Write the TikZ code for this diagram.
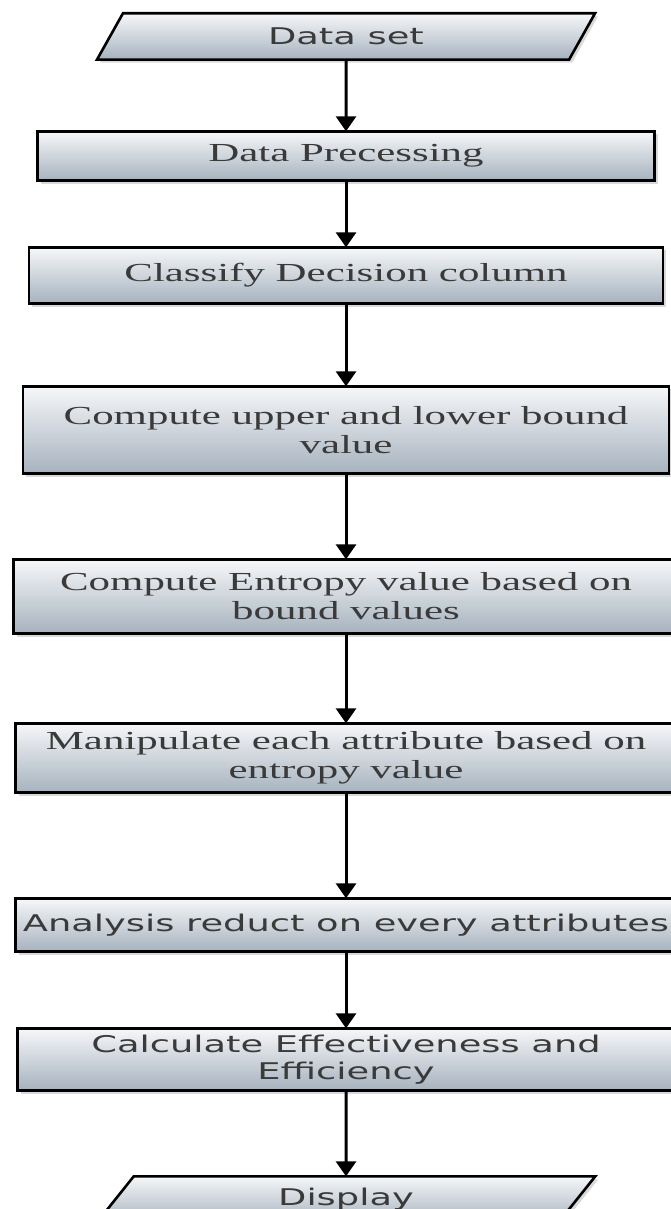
\documentclass[tikz,border=0pt]{standalone}
\usepackage{fontspec}
\usepackage{tikz}
\usetikzlibrary{arrows.meta,positioning,shapes.geometric,shadows}
\newfontfamily\serifwide[FakeStretch=1.65]{Liberation Serif}
\newfontfamily\sanswide[FakeStretch=1.6]{DejaVu Sans}
\definecolor{boxtop}{RGB}{246,247,249}
\definecolor{boxbottom}{RGB}{166,178,190}
\definecolor{txtgray}{RGB}{58,58,58}

\begin{document}
\begin{tikzpicture}
    \tikzstyle{stage}=[rectangle,draw,line width=2.6pt,top color=boxtop,%
    bottom color=boxbottom,text=txtgray,align=center,inner sep=0pt,%
    outer sep=0pt,drop shadow={shadow xshift=3pt,shadow yshift=-3pt,%
    opacity=0.3}] %
    \tikzstyle{serifbox}=[stage,font=\serifwide\fontsize{26}{29}\selectfont] %
    \tikzstyle{sansbox}=[stage,font=\sanswide\fontsize{23}{27}\selectfont] %
    \tikzstyle{io}=[sansbox,trapezium,trapezium left angle=62,%
    trapezium right angle=118,trapezium stretches=true,%
    minimum width=499pt,minimum height=46.4pt] %
    \tikzstyle{flow}=[-{Triangle[length=15pt,width=20pt]},line width=3pt] %

    \useasboundingbox (0,0) rectangle (670pt,-1209pt);

    \node[io] (DS) at (346pt,-36.5pt) {Data set};
    \node[serifbox,minimum width=617pt,minimum height=49.4pt] (DP)
        [below=71.6pt of DS] {Data Precessing};
    \node[serifbox,minimum width=634pt,minimum height=56.4pt] (CDC)
        [below=66.6pt of DP] {Classify Decision column};
    \node[serifbox,minimum width=646pt,minimum height=87.4pt] (CUB)
        [below=82.6pt of CDC] {Compute upper and lower bound\\value};
    \node[serifbox,minimum width=665pt,minimum height=74.4pt] (CEV)
        [below=85.6pt of CUB] {Compute Entropy value based on\\bound values};
    \node[serifbox,minimum width=661pt,minimum height=69.4pt] (MEA)
        [below=89.6pt of CEV] {Manipulate each attribute based on\\entropy value};
    \node[sansbox,minimum width=661pt,minimum height=53.4pt] (ARA)
        [below=105.6pt of MEA] {Analysis reduct on every attributes};
    \node[sansbox,minimum width=657pt,minimum height=62.4pt] (CEE)
        [below=76.6pt of ARA] {Calculate Effectiveness and\\Efficiency};
    \node[io] (DSP) [below=85.6pt of CEE] {Display};

    \path [flow] (DS) edge (DP);
    \path [flow] (DP) edge (CDC);
    \path [flow] (CDC) edge (CUB);
    \path [flow] (CUB) edge (CEV);
    \path [flow] (CEV) edge (MEA);
    \path [flow] (MEA) edge (ARA);
    \path [flow] (ARA) edge (CEE);
    \path [flow] (CEE) edge (DSP);
\end{tikzpicture}
\end{document}
